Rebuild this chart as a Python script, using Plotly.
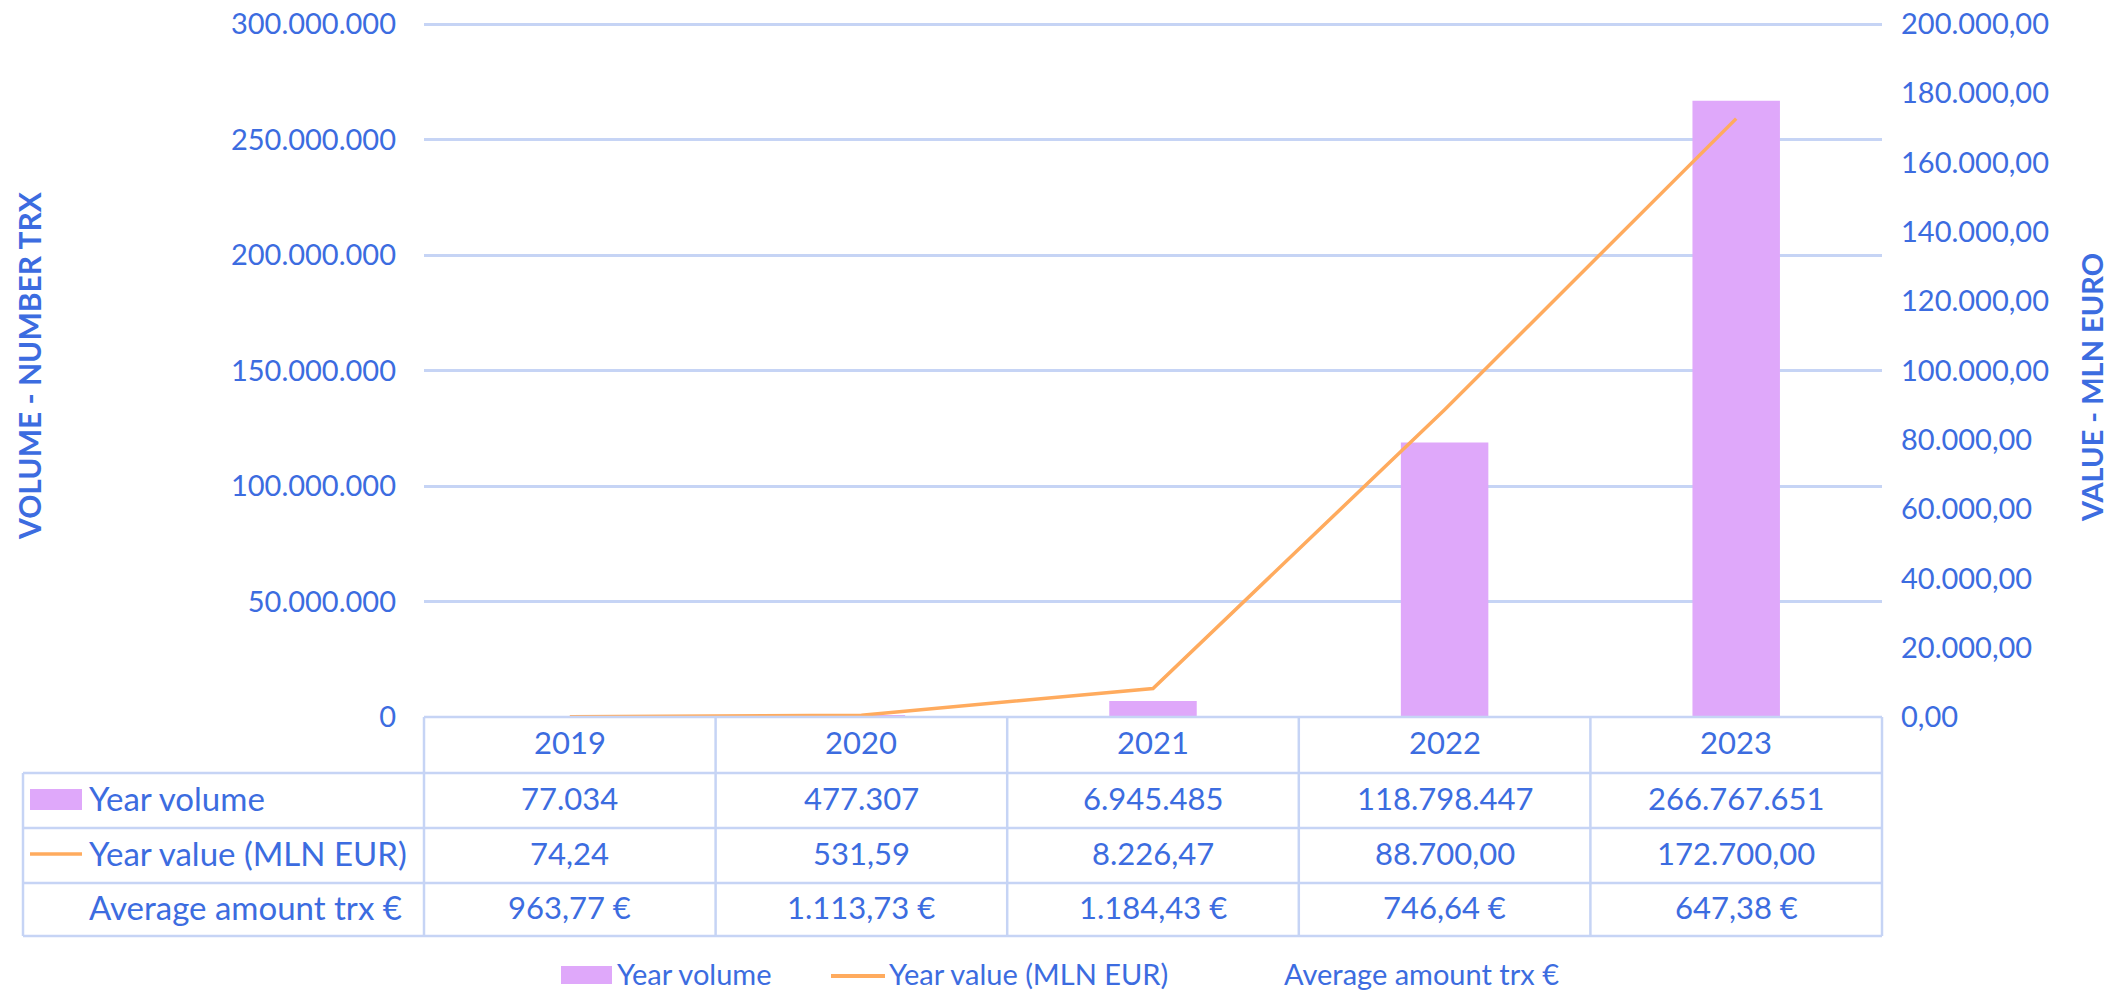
import plotly.graph_objects as go

# ---------------- data ----------------
years = ["2019", "2020", "2021", "2022", "2023"]
year_volume = [77034, 477307, 6945485, 118798447, 266767651]
year_value_mln = [74.24, 531.59, 8226.47, 88700.00, 172700.00]
avg_amount = [963.77, 1113.73, 1184.43, 746.64, 647.38]

series_names = ["Year volume", "Year value (MLN EUR)", "Average amount trx €"]
left_title = "VOLUME - NUMBER TRX"
right_title = "VALUE - MLN EURO"

# ---------------- style ----------------
OFF = 8                      # page body margin of the html page
W, H = 2126 - OFF, 990 - OFF
# plot area in page pixels
PL, PR, PT, PB = 424, 1882, 23, 717
BLUE = "#3C6CE0"
GRID = "#C6D4F5"
PURPLE = "#DFA8FA"
ORANGE = "#FFAB5E"
FONT = "Lato, Carlito, Calibri, sans-serif"
EXT = 1.0015                 # tiny range extension so the top gridline is drawn


def fx(px):
    return (px - PL) / (PR - PL)


def fy(py):
    return (PB - py) / (PB - PT)


def it_int(n):
    return f"{n:,}".replace(",", ".")


def it_dec(v):
    return f"{v:,.2f}".replace(",", "X").replace(".", ",").replace("X", ".")


fig = go.Figure()
fig.add_trace(go.Bar(
    x=years, y=year_volume, name=series_names[0],
    marker=dict(color=PURPLE, line=dict(width=0)),
    yaxis="y", showlegend=False,
))
fig.add_trace(go.Scatter(
    x=years, y=year_value_mln, name=series_names[1],
    mode="lines", line=dict(color=ORANGE, width=3.5),
    yaxis="y2", showlegend=False,
))

shapes = []
annotations = []

# ---------------- data table ----------------
row_edges = [PB, 773, 828, 883, 936]
ncol = len(years)
line = dict(color=GRID, width=2.5)

shapes.append(dict(type="line", xref="paper", yref="paper",
                   x0=0, x1=1, y0=fy(row_edges[0]), y1=fy(row_edges[0]), line=line))
for r in row_edges[1:]:
    shapes.append(dict(type="line", xref="paper", yref="paper",
                       x0=fx(23), x1=1, y0=fy(r), y1=fy(r), line=line))
for i in range(ncol + 1):
    xv = i / ncol
    shapes.append(dict(type="line", xref="paper", yref="paper",
                       x0=xv, x1=xv, y0=fy(row_edges[0]), y1=fy(row_edges[-1]), line=line))
shapes.append(dict(type="line", xref="paper", yref="paper",
                   x0=fx(23), x1=fx(23), y0=fy(row_edges[1]), y1=fy(row_edges[-1]), line=line))

TXT_SHIFT = 3
row_centers = [(row_edges[k] + row_edges[k + 1]) / 2 - TXT_SHIFT for k in range(4)]
cell_font = dict(family=FONT, size=31, color=BLUE)


def col_center(i):
    return (i + 0.5) / ncol


for i, yv in enumerate(years):
    annotations.append(dict(x=col_center(i), y=fy(row_centers[0]), xref="paper", yref="paper",
                            text=yv, showarrow=False, font=cell_font,
                            xanchor="center", yanchor="middle"))
rows_text = [
    [it_int(v) for v in year_volume],
    [it_dec(v) for v in year_value_mln],
    [it_dec(v) + " €" for v in avg_amount],
]
for k, texts in enumerate(rows_text):
    for i, t in enumerate(texts):
        annotations.append(dict(x=col_center(i), y=fy(row_centers[k + 1]), xref="paper", yref="paper",
                                text=t, showarrow=False, font=cell_font,
                                xanchor="center", yanchor="middle"))
    annotations.append(dict(x=fx(87), y=fy(row_centers[k + 1]), xref="paper", yref="paper",
                            text=series_names[k], showarrow=False,
                            font=dict(family=FONT, size=33, color=BLUE),
                            xanchor="left", yanchor="middle"))

shapes.append(dict(type="rect", xref="paper", yref="paper",
                   x0=fx(30), x1=fx(82), y0=fy(789), y1=fy(810),
                   fillcolor=PURPLE, line=dict(width=0)))
shapes.append(dict(type="line", xref="paper", yref="paper",
                   x0=fx(30), x1=fx(82), y0=fy(854), y1=fy(854),
                   line=dict(color=ORANGE, width=3.5)))

# ---------------- legend (bottom) ----------------
leg_font = dict(family=FONT, size=29, color=BLUE)
ly = 973
shapes.append(dict(type="rect", xref="paper", yref="paper",
                   x0=fx(561), x1=fx(612), y0=fy(966), y1=fy(984),
                   fillcolor=PURPLE, line=dict(width=0)))
annotations.append(dict(x=fx(615), y=fy(ly), xref="paper", yref="paper", text=series_names[0],
                        showarrow=False, font=leg_font, xanchor="left", yanchor="middle"))
shapes.append(dict(type="line", xref="paper", yref="paper",
                   x0=fx(831), x1=fx(885), y0=fy(976), y1=fy(976),
                   line=dict(color=ORANGE, width=4)))
annotations.append(dict(x=fx(887), y=fy(ly), xref="paper", yref="paper", text=series_names[1],
                        showarrow=False, font=leg_font, xanchor="left", yanchor="middle"))
annotations.append(dict(x=fx(1282), y=fy(ly), xref="paper", yref="paper", text=series_names[2],
                        showarrow=False, font=leg_font, xanchor="left", yanchor="middle"))

# ---------------- axis titles ----------------
annotations.append(dict(x=fx(29), y=fy(366), xref="paper", yref="paper",
                        text="<b>" + left_title + "</b>", textangle=-90, showarrow=False,
                        font=dict(family=FONT, size=30, color=BLUE),
                        xanchor="center", yanchor="middle"))
annotations.append(dict(x=fx(2091), y=fy(388), xref="paper", yref="paper",
                        text="<b>" + right_title + "</b>", textangle=-90, showarrow=False,
                        font=dict(family=FONT, size=29, color=BLUE),
                        xanchor="center", yanchor="middle"))

tick_font = dict(family=FONT, size=29, color=BLUE)
fig.update_layout(
    width=W, height=H,
    margin=dict(l=PL - OFF, r=(2126 - PR), t=PT - OFF, b=(990 - PB), pad=0,
                autoexpand=False),
    paper_bgcolor="white", plot_bgcolor="white",
    separators=",.",
    bargap=0.7,
    showlegend=False,
    xaxis=dict(type="category", range=[-0.5, ncol - 0.5], showticklabels=False,
               showgrid=False, zeroline=False, showline=False, ticks="",
               automargin=False),
    yaxis=dict(range=[0, 300e6 * EXT], tickvals=[0, 50e6, 100e6, 150e6, 200e6, 250e6, 300e6],
               tickformat=",d", showgrid=True,
               gridcolor=GRID, gridwidth=2.5, zeroline=False, showline=False,
               ticks="", ticklabelstandoff=27, tickfont=tick_font,
               ticklabeloverflow="allow", automargin=False),
    yaxis2=dict(range=[0, 200000 * EXT], tickvals=list(range(0, 200001, 20000)),
                tickformat=",.2f", overlaying="y",
                side="right", showgrid=False, zeroline=False, showline=False,
                ticks="", ticklabelstandoff=18, tickfont=tick_font,
                ticklabeloverflow="allow", automargin=False),
    shapes=shapes,
    annotations=annotations,
)

fig.write_html("out.html")
